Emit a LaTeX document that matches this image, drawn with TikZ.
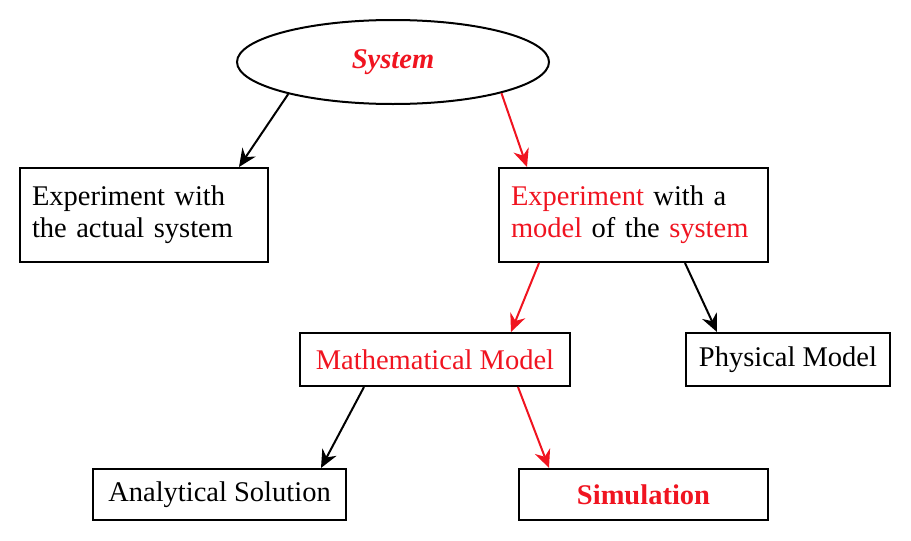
\documentclass[tikz,border=0pt]{standalone}
\usepackage{fontspec}
\setmainfont{Liberation Serif}
\usetikzlibrary{arrows.meta,shapes.geometric,calc}
\definecolor{myred}{RGB}{240,20,32}
\tikzset{
  box/.style={draw=black,line width=2pt,rectangle,inner sep=0pt,font=\fontsize{28.5}{32}\selectfont},
  arr/.style={line width=2pt,-{Stealth[length=18pt,width=16pt,inset=6pt]}},
}
\begin{document}
\begin{tikzpicture}[x=1pt,y=-1pt]
\useasboundingbox (0,0) rectangle (911,541);
\node[box,ellipse,minimum width=312pt,minimum height=84pt] (sys) at (393,62)
  {\textcolor{myred}{\textbf{\textit{System}}}};
\node[box,minimum width=248pt,minimum height=94pt,text width=224pt,align=left] (b1) at (144,215)
  {Experiment with\\the actual system};
\node[box,minimum width=269pt,minimum height=94pt,text width=245pt,align=left] (b2) at (633.5,215)
  {\textcolor{myred}{Experiment} with a\\\textcolor{myred}{model} of the \textcolor{myred}{system}};
\node[box,minimum width=270pt,minimum height=53pt] (b3) at (435,359.5)
  {\textcolor{myred}{Mathematical Model}};
\node[box,minimum width=204pt,minimum height=53pt] (b4) at (788,359.5)
  {Physical Model};
\node[box,minimum width=253pt,minimum height=51pt] (b5) at (219.5,494.5)
  {Analytical Solution};
\node[box,minimum width=249pt,minimum height=51pt] (b6) at (643.5,494.5)
  {\textcolor{myred}{\textbf{Simulation}}};
\draw[arr] (sys.197) -- ($(b1.north west)+(220,0)$);
\draw[arr,myred] (sys.344.5) -- ($(b2.north west)+(29,0)$);
\draw[arr,myred] ($(b2.south west)+(41,0)$) -- ($(b3.north west)+(212,0)$);
\draw[arr] ($(b2.south west)+(187,0)$) -- ($(b4.north west)+(32,0)$);
\draw[arr] ($(b3.south west)+(65,0)$) -- ($(b5.north west)+(229,0)$);
\draw[arr,myred] ($(b3.south west)+(219,0)$) -- ($(b6.north west)+(31,0)$);
\end{tikzpicture}
\end{document}
